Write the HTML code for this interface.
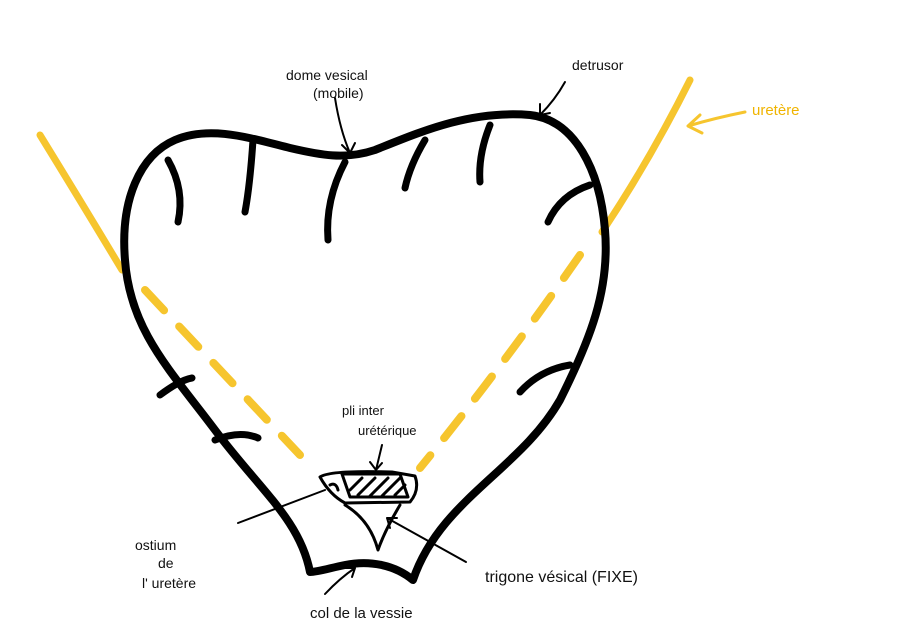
<!DOCTYPE html>
<html><head><meta charset="utf-8"><style>
html,body{margin:0;padding:0;background:#fff;width:924px;height:638px;overflow:hidden}
svg text{font-family:"Liberation Sans",sans-serif;fill:#111}
</style></head><body>
<svg width="924" height="638" viewBox="0 0 924 638">
<g fill="none" stroke-linecap="round" stroke-linejoin="round">
<!-- ureters -->
<path d="M40,135 Q80,200 122,270" stroke="#f6c52e" stroke-width="7"/>
<path d="M145,290 Q220,370 300,455" stroke="#f6c52e" stroke-width="8" stroke-dasharray="28,22"/>
<path d="M690,80 Q650,160 602,232" stroke="#f6c52e" stroke-width="7"/>
<path d="M580,255 Q500,370 420,468" stroke="#f6c52e" stroke-width="8" stroke-dasharray="28,22"/>
<path d="M745,112 Q715,118 688,126 M700,115 L688,126 L702,133" stroke="#f6c52e" stroke-width="3"/>
<!-- bladder outline -->
<path stroke="#000" stroke-width="8" d="M310,572 C300,520 260,490 215,430 C170,370 130,330 125,260 C120,200 140,155 175,140 C210,125 250,138 290,148 C320,155 345,160 375,150 C420,132 470,110 530,115 C575,120 600,170 605,230 C610,290 590,340 560,400 C520,470 440,500 413,580 C395,565 370,560 345,565 C330,568 318,572 310,572"/>
<!-- ribs -->
<g stroke="#000" stroke-width="7">
<path d="M168,160 Q185,190 178,222"/>
<path d="M253,140 Q250,185 245,212"/>
<path d="M345,162 Q325,200 328,240"/>
<path d="M425,140 Q410,165 405,188"/>
<path d="M490,125 Q478,155 480,182"/>
<path d="M590,185 Q560,195 548,222"/>
<path d="M160,395 Q180,380 192,378"/>
<path d="M215,440 Q240,430 258,438"/>
<path d="M520,392 Q540,370 570,365"/>
</g>
<!-- trigone -->
<g stroke="#000" stroke-width="3">
<path d="M320,477 Q330,470 392,472 L415,476 Q420,490 410,502 L345,503 Q330,495 320,477Z"/>
<path d="M345,505 Q370,520 378,550 Q385,530 400,505"/>
<path d="M342,474 L400,474 L408,497 L350,497Z"/>
<path d="M350,490 L362,478 M358,495 L375,478 M370,496 L388,478 M382,496 L400,478 M395,495 L405,485"/>
<path d="M330,485 Q336,482 338,490"/>
</g>
<!-- annotation lines -->
<g stroke="#000" stroke-width="2">
<path d="M335,98 Q340,130 350,153 M342,145 L350,153 L355,143"/>
<path d="M565,82 Q555,100 540,115 M540,104 L540,115 L550,113"/>
<path d="M382,445 L376,470 M370,462 L376,470 L382,463"/>
<path d="M238,523 L325,490"/>
<path d="M466,562 L387,518 M390,528 L387,518 L397,518"/>
<path d="M325,594 Q340,578 355,568 M345,568 L355,568 L352,577"/>
</g>
</g>
<text x="286" y="80" font-size="14">dome vesical</text>
<text x="313" y="98" font-size="14">(mobile)</text>
<text x="572" y="70" font-size="14">detrusor</text>
<text x="752" y="115" font-size="15" style="fill:#f0b400">uretère</text>
<text x="342" y="415" font-size="13">pli inter</text>
<text x="358" y="435" font-size="13">urétérique</text>
<text x="135" y="550" font-size="14">ostium</text>
<text x="158" y="568" font-size="14">de</text>
<text x="142" y="588" font-size="14">l' uretère</text>
<text x="485" y="582" font-size="16">trigone vésical (FIXE)</text>
<text x="310" y="618" font-size="15">col de la vessie</text>
</svg>
</body></html>
